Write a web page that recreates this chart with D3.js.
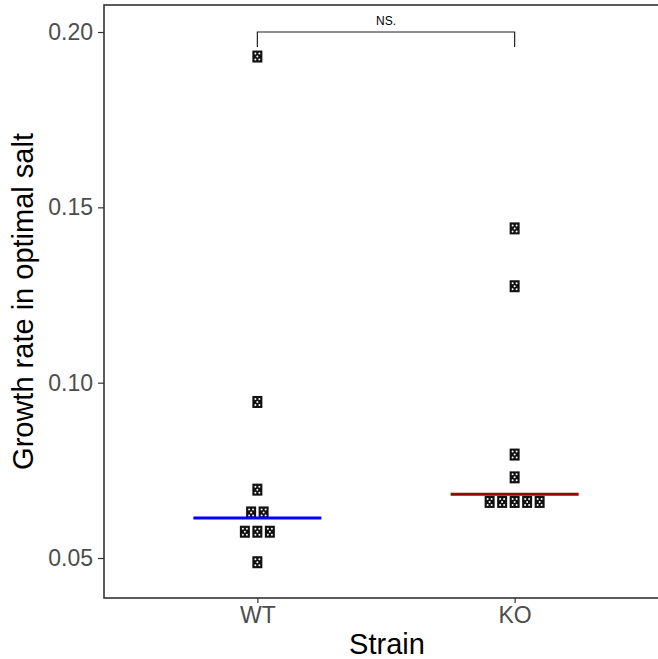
<!DOCTYPE html>
<html>
<head>
<meta charset="utf-8">
<script src="https://cdn.jsdelivr.net/npm/d3@7"></script>
<style>
  html, body { margin: 0; padding: 0; background: #fff; }
  svg { display: block; font-family: "Liberation Sans", Arial, sans-serif; }
</style>
</head>
<body>
<div id="chart"></div>
<script>
// Dados
const strains = ["WT", "KO"];
const wtValues = [0.193, 0.0945, 0.0695, 0.063, 0.063, 0.0575, 0.0575, 0.0575, 0.0488];
const koValues = [0.144, 0.1275, 0.0795, 0.073, 0.066, 0.066, 0.066, 0.066, 0.066];
const medians = [0.0614, 0.0682];
const medianColors = ["#0000ff", "#a00000"];
const yTicks = [0.05, 0.10, 0.15, 0.20];
const sigLabel = "NS.";

const width = 658, height = 659;
const panel = { left: 104, top: 5, right: 670, bottom: 598 };

const svg = d3.select("#chart").append("svg")
    .attr("width", width)
    .attr("height", height);

const x = d3.scalePoint()
    .domain(strains)
    .range([panel.left - 1, panel.right - 1])
    .padding(0.6);

const y = d3.scaleLinear()
    .domain([0.0386, 0.2077])
    .range([panel.bottom, panel.top]);

// Borda do painel
svg.append("rect")
    .attr("x", panel.left)
    .attr("y", panel.top)
    .attr("width", panel.right - panel.left)
    .attr("height", panel.bottom - panel.top)
    .attr("fill", "none")
    .attr("stroke", "#333")
    .attr("stroke-width", 1.6);

// Eixo Y
const yAxis = svg.append("g")
    .attr("transform", `translate(${panel.left},0)`)
    .call(d3.axisLeft(y).tickValues(yTicks).tickFormat(d3.format(".2f")).tickSize(6).tickPadding(5));
yAxis.select(".domain").remove();
yAxis.selectAll("line").attr("stroke", "#333").attr("stroke-width", 1.2);
yAxis.selectAll("text")
    .attr("fill", "#4d4d4d")
    .style("font-size", "23px")
    .style("font-family", "Liberation Sans, Arial, sans-serif");

// Eixo X
const xAxis = svg.append("g")
    .attr("transform", `translate(0,${panel.bottom})`)
    .call(d3.axisBottom(x).tickSize(5).tickPadding(4));
xAxis.select(".domain").remove();
xAxis.selectAll("line").attr("stroke", "#333").attr("stroke-width", 1.2);
xAxis.selectAll("text")
    .attr("fill", "#4d4d4d")
    .style("font-size", "23px")
    .style("font-family", "Liberation Sans, Arial, sans-serif");

// Rótulos dos eixos
svg.append("text")
    .attr("x", (panel.left + panel.right) / 2)
    .attr("y", 654)
    .attr("text-anchor", "middle")
    .style("font-size", "29px")
    .text("Strain");

svg.append("text")
    .attr("transform", "rotate(-90)")
    .attr("x", -(panel.top + panel.bottom) / 2)
    .attr("y", 33)
    .attr("text-anchor", "middle")
    .style("font-size", "29px")
    .text("Growth rate in optimal salt");

// Pontos empilhados (dotplot)
const dotStep = 12.5;
const points = [];
[wtValues, koValues].forEach((vals, i) => {
    const groups = d3.group(vals, v => v);
    groups.forEach((arr, v) => {
        arr.forEach((_, j) => {
            points.push({ strain: strains[i], value: v, offset: (j - (arr.length - 1) / 2) * dotStep });
        });
    });
});

const dots = svg.append("g").selectAll("g")
    .data(points)
    .enter()
    .append("g")
        .attr("transform", d => `translate(${x(d.strain) + d.offset},${y(d.value)})`);

dots.append("rect")
    .attr("x", -5).attr("y", -6)
    .attr("width", 10).attr("height", 12)
    .attr("fill", "#111");

const marks = [[-2, -3], [2, -3], [0, 0], [-2, 3], [2, 3]];
dots.selectAll("circle")
    .data(marks)
    .enter()
    .append("circle")
        .attr("cx", d => d[0])
        .attr("cy", d => d[1])
        .attr("r", 1)
        .attr("fill", "#fff");

// Linhas das medianas
svg.append("g").selectAll("line")
    .data(medians)
    .enter()
    .append("line")
        .attr("x1", (d, i) => x(strains[i]) - 64)
        .attr("x2", (d, i) => x(strains[i]) + 64)
        .attr("y1", d => y(d))
        .attr("y2", d => y(d))
        .attr("stroke", (d, i) => medianColors[i])
        .attr("stroke-width", 3);

// Colchete de significância
const bracketY = y(0.2);
const bracketLow = y(0.1957);
svg.append("path")
    .attr("d", `M${x("WT")},${bracketLow}V${bracketY}H${x("KO")}V${bracketLow}`)
    .attr("fill", "none")
    .attr("stroke", "#222")
    .attr("stroke-width", 1.2);

svg.append("text")
    .attr("x", (x("WT") + x("KO")) / 2)
    .attr("y", bracketY - 7)
    .attr("text-anchor", "middle")
    .style("font-size", "12px")
    .text(sigLabel);
</script>
</body>
</html>
